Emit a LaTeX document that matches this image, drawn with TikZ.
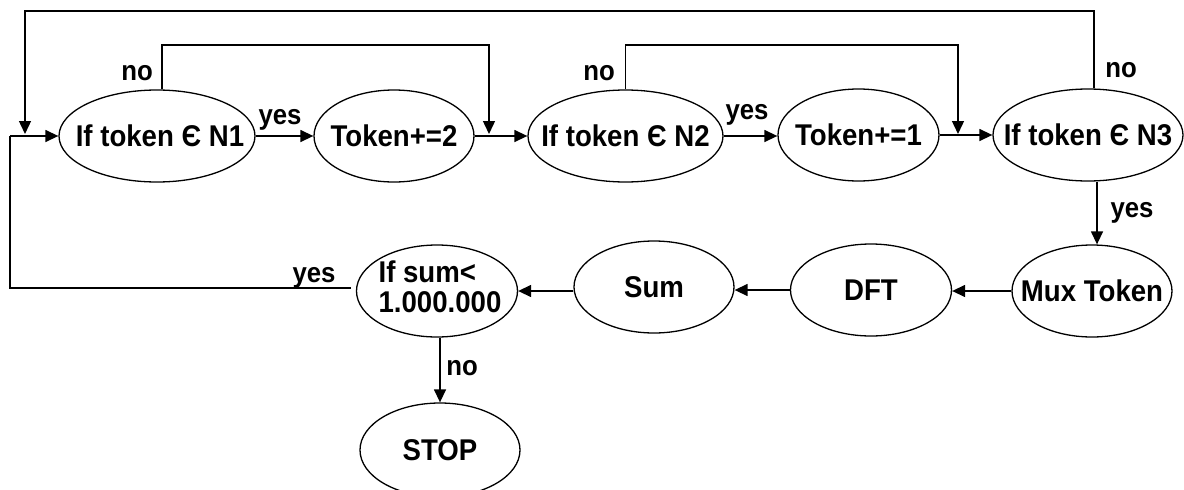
\documentclass[tikz,border=0pt]{standalone}
\usepackage{fontspec}
\setmainfont{Liberation Sans}[FakeStretch=0.92]
\usetikzlibrary{shapes.geometric,arrows.meta}
\newcommand{\tx}[1]{\makebox[0pt]{#1}}
\begin{document}
\begin{tikzpicture}[x=1pt,y=-1pt,
  bub/.style={ellipse,draw,line width=1.3pt,inner sep=0pt,minimum height=92pt,
    font=\fontsize{30}{30}\selectfont\bfseries},
  conn/.style={line width=1.4pt},
  arr/.style={conn,-{Triangle[length=13pt,width=12pt]}},
  lbl/.style={font=\fontsize{28}{28}\selectfont\bfseries,inner sep=0pt}]
\useasboundingbox (0,0) rectangle (1184,490);
% nodes
\node[bub,minimum width=196pt] (n1) at (157,136) {\tx{\hspace{6pt}If token Є N1}};
\node[bub,minimum width=160pt] (t2) at (394,136) {\tx{Token+=2}};
\node[bub,minimum width=195pt] (n2) at (625.5,136) {\tx{If token Є N2}};
\node[bub,minimum width=161pt] (t1) at (858.5,135) {\tx{Token+=1}};
\node[bub,minimum width=190pt] (n3) at (1088,135) {\tx{If token Є N3}};
\node[bub,minimum width=160pt] (mux) at (1092,291) {\tx{Mux Token}};
\node[bub,minimum width=161pt] (dft) at (871,290) {\tx{DFT}};
\node[bub,minimum width=160pt] (sum) at (654,287) {\tx{Sum}};
\node[bub,minimum width=161pt] (ifs) at (437,291) {\tx{\hspace{6pt}\begin{tabular}{@{}l@{}}If sum<\\1.000.000\end{tabular}}};
\node[bub,minimum width=160pt,minimum height=94pt] (stop) at (440,450) {\tx{STOP}};
% coordinates
\coordinate (j1) at (489,136);
\coordinate (j2) at (958,136);
\coordinate (j0) at (25,136);
\coordinate (lft) at (10,136);
% top row
\draw[arr] (n1.east) -- (t2.west);
\draw[arr] (t2.east) -- (n2.west);
\draw[arr] (n2.east) -- (n2.east -| t1.west);
\draw[arr] (t1.east |- n3.west) -- (n3.west);
% inner loops
\draw[arr,shorten >=2pt] ([xshift=5pt]n1.north) -- ([xshift=5pt]n1.north |- 0,45) -| (j1);
\draw[arr,shorten >=2pt] (n2.north) -- (n2.north |- 0,45) -| (j2);
% outer loop
\draw[arr,shorten >=2pt] ([xshift=6pt]n3.north) -- ([xshift=6pt]n3.north |- 0,11) -| (j0);
% bottom row
\draw[arr] ([xshift=5pt]mux.north |- n3.south) -- ([xshift=5pt]mux.north);
\draw[arr] (mux.west) -- (mux.west -| dft.east);
\draw[arr] (dft.west) -- (dft.west -| sum.east);
\draw[arr] (sum.west |- ifs.east) -- (ifs.east);
\draw[arr] (stop.north |- ifs.south) -- (stop.north);
% yes loop back
\draw[conn] ([xshift=-5pt,yshift=3pt]ifs.west) -| (lft);
\draw[arr] (lft) -- (n1.west);
% labels
\node[lbl] (no1) at (137,73) {no};
\node[lbl] (no2) at (599,73) {no};
\node[lbl] (no3) at (1121,70) {no};
\node[lbl] (y1) at (280,120) {yes};
\node[lbl] (y2) at (747,115) {yes};
\node[lbl] (y3) at (1132,213) {yes};
\node[lbl] (y4) at (314,278) {yes};
\node[lbl] (no4) at (462,368) {no};
\end{tikzpicture}
\end{document}
